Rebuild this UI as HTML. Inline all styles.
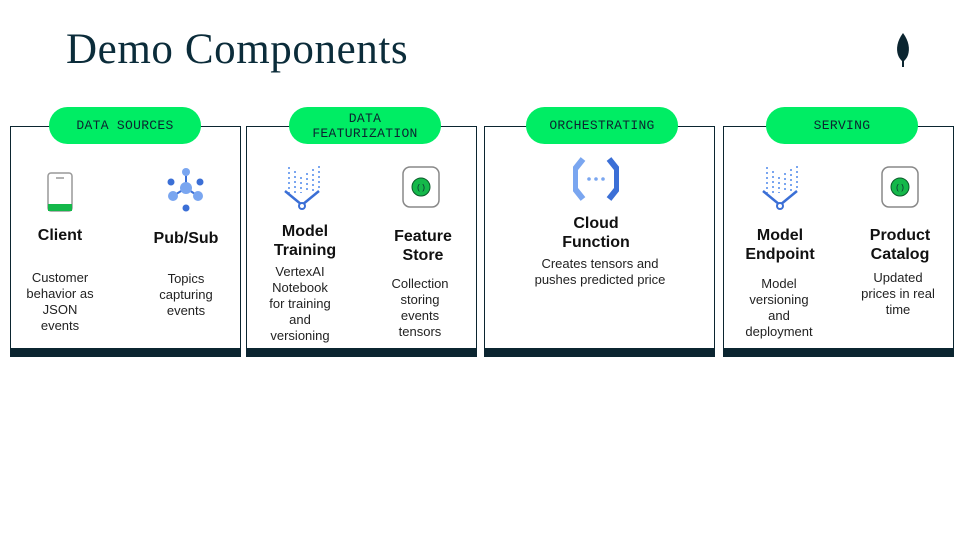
<!DOCTYPE html>
<html><head><meta charset="utf-8"><style>
body{margin:0;width:960px;height:540px;background:#fff;position:relative;overflow:hidden;font-family:"Liberation Sans",sans-serif;color:#111}
.t{position:absolute;white-space:nowrap;transform:translate(-50%,-50%);text-align:center}
.h{font-size:16px;font-weight:bold;color:#111}
.s{font-size:13px;color:#222}
.box{position:absolute;top:126px;height:231px;border:1px solid #0b2530;box-sizing:border-box;background:#fff}
.box::after{content:"";position:absolute;left:0;right:0;bottom:0;height:8px;background:#0b2530}
.pill{position:absolute;top:107px;height:37px;width:152px;border-radius:19px;background:#00ed64;font-family:"Liberation Mono",monospace;font-size:13px;color:#0b2530;display:flex;align-items:center;justify-content:center;text-align:center;line-height:15px;letter-spacing:.3px}
</style></head><body>
<div style="position:absolute;left:66px;top:25px;font-family:'Liberation Serif',serif;font-size:43px;letter-spacing:0.6px;color:#0b2c3a">Demo Components</div>
<svg style="position:absolute;left:893px;top:32px" width="20" height="36" viewBox="0 0 20 36"><path d="M10 1C4 9 3 17 5 23c1 3 3 5 4 6v6h2v-6c1-1 3-3 4-6 2-6 1-14-5-22z" fill="#0b2530"/></svg>

<div class="box" style="left:10px;width:231px"></div>
<div class="box" style="left:246px;width:231px"></div>
<div class="box" style="left:484px;width:231px"></div>
<div class="box" style="left:723px;width:231px"></div>
<div class="pill" style="left:49px">DATA SOURCES</div>
<div class="pill" style="left:289px">DATA<br>FEATURIZATION</div>
<div class="pill" style="left:526px">ORCHESTRATING</div>
<div class="pill" style="left:766px">SERVING</div>

<svg style="position:absolute;left:47px;top:172px" width="26" height="40"><rect x="1" y="1" width="24" height="38" rx="3" fill="#fff" stroke="#999" stroke-width="1.5"/><rect x="1" y="32" width="24" height="7" fill="#14b84a"/><line x1="9" y1="6" x2="17" y2="6" stroke="#999" stroke-width="1.5"/></svg>
<svg style="position:absolute;left:165px;top:168px" width="42" height="44"><g stroke="#3b6fd6" stroke-width="2"><line x1="21" y1="4" x2="21" y2="20"/><line x1="21" y1="20" x2="8" y2="28"/><line x1="21" y1="20" x2="33" y2="28"/></g><g fill="#7aa6f0"><circle cx="21" cy="4" r="4"/><circle cx="21" cy="20" r="6"/><circle cx="8" cy="28" r="5"/><circle cx="33" cy="28" r="5"/></g><g fill="#3b6fd6"><circle cx="6" cy="14" r="3.5"/><circle cx="35" cy="14" r="3.5"/><circle cx="21" cy="40" r="3.5"/></g></svg>
<svg style="position:absolute;left:283px;top:165px" width="40" height="45"><g stroke="#7aa6f0" stroke-width="2" stroke-dasharray="2 3"><line x1="6" y1="2" x2="6" y2="28"/><line x1="12" y1="6" x2="12" y2="28"/><line x1="18" y1="12" x2="18" y2="28"/><line x1="24" y1="8" x2="24" y2="28"/><line x1="30" y1="4" x2="30" y2="28"/><line x1="36" y1="1" x2="36" y2="26"/></g><path d="M2 26l17 14 17-14" stroke="#3b6fd6" stroke-width="2.5" fill="none"/><circle cx="19" cy="41" r="3" fill="#fff" stroke="#3b6fd6" stroke-width="2"/></svg>
<svg style="position:absolute;left:761px;top:165px" width="40" height="45"><g stroke="#7aa6f0" stroke-width="2" stroke-dasharray="2 3"><line x1="6" y1="2" x2="6" y2="28"/><line x1="12" y1="6" x2="12" y2="28"/><line x1="18" y1="12" x2="18" y2="28"/><line x1="24" y1="8" x2="24" y2="28"/><line x1="30" y1="4" x2="30" y2="28"/><line x1="36" y1="1" x2="36" y2="26"/></g><path d="M2 26l17 14 17-14" stroke="#3b6fd6" stroke-width="2.5" fill="none"/><circle cx="19" cy="41" r="3" fill="#fff" stroke="#3b6fd6" stroke-width="2"/></svg>
<svg style="position:absolute;left:398px;top:166px" width="46" height="42"><rect x="5" y="1" width="36" height="40" rx="7" fill="#fff" stroke="#888" stroke-width="1.5"/><circle cx="23" cy="21" r="9" fill="#14b84a" stroke="#0b5a2a"/><text x="23" y="24" font-size="8" text-anchor="middle" fill="#0b2530" font-family="Liberation Mono">()</text></svg>
<svg style="position:absolute;left:877px;top:166px" width="46" height="42"><rect x="5" y="1" width="36" height="40" rx="7" fill="#fff" stroke="#888" stroke-width="1.5"/><circle cx="23" cy="21" r="9" fill="#14b84a" stroke="#0b5a2a"/><text x="23" y="24" font-size="8" text-anchor="middle" fill="#0b2530" font-family="Liberation Mono">()</text></svg>
<svg style="position:absolute;left:573px;top:157px" width="46" height="44"><path d="M10 2L2 12v20l8 10" stroke="#7aa6f0" stroke-width="6" fill="none"/><path d="M36 2l8 10v20l-8 10" stroke="#3b6fd6" stroke-width="6" fill="none"/><g fill="#7aa6f0"><circle cx="16" cy="22" r="1.8"/><circle cx="23" cy="22" r="1.8"/><circle cx="30" cy="22" r="1.8"/></g></svg>

<div class="t h" style="left:60px;top:236px">Client</div>
<div class="t s" style="left:60px;top:302px;line-height:16px">Customer<br>behavior as<br>JSON<br>events</div>
<div class="t h" style="left:186px;top:239px">Pub/Sub</div>
<div class="t s" style="left:186px;top:295px;line-height:16px">Topics<br>capturing<br>events</div>
<div class="t h" style="left:305px;top:241px;line-height:19px">Model<br>Training</div>
<div class="t s" style="left:300px;top:304px;line-height:16px">VertexAI<br>Notebook<br>for training<br>and<br>versioning</div>
<div class="t h" style="left:423px;top:246px;line-height:19px">Feature<br>Store</div>
<div class="t s" style="left:420px;top:308px;line-height:16px">Collection<br>storing<br>events<br>tensors</div>
<div class="t h" style="left:596px;top:233px;line-height:19px">Cloud<br>Function</div>
<div class="t s" style="left:600px;top:272px;line-height:16px">Creates tensors and<br>pushes predicted price</div>
<div class="t h" style="left:780px;top:245px;line-height:19px">Model<br>Endpoint</div>
<div class="t s" style="left:779px;top:308px;line-height:16px">Model<br>versioning<br>and<br>deployment</div>
<div class="t h" style="left:900px;top:245px;line-height:19px">Product<br>Catalog</div>
<div class="t s" style="left:898px;top:294px;line-height:16px">Updated<br>prices in real<br>time</div>
</body></html>
